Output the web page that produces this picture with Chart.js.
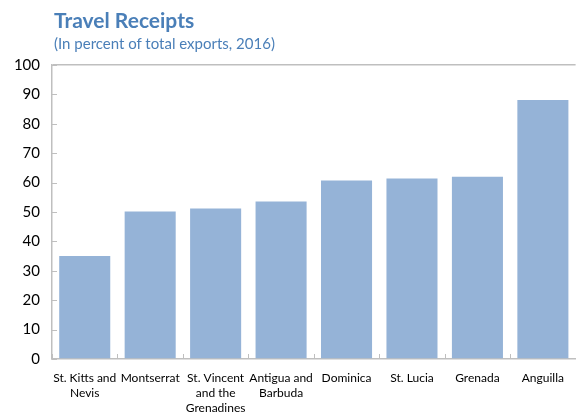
<!DOCTYPE html>
<html>
<head>
<meta charset="utf-8">
<script src="https://cdn.jsdelivr.net/npm/chart.js@4"></script>
<style>
  body { margin: 0; background: #fff; }
  #wrap { position: relative; width: 576px; height: 413px; }
  #title { position: absolute; left: 54px; top: 7px; font: bold 21px Lato, "Open Sans", sans-serif; color: #4a7fb8; }
  #sub { position: absolute; left: 54px; top: 34px; font: 15px Lato, "Open Sans", sans-serif; color: #4a7fb8; }
  canvas { position: absolute; left: 0; top: 0; }
</style>
</head>
<body>
<div id="wrap">
  <canvas id="myBar" width="576" height="413"></canvas>
  <div id="title">Travel Receipts</div>
  <div id="sub">(In percent of total exports, 2016)</div>
</div>
<script>
var barPosition = document.getElementById('myBar').getContext('2d');

var countries = [
    ["St. Kitts and", "Nevis"],
    "Montserrat",
    ["St. Vincent", "and the", "Grenadines"],
    ["Antigua and", "Barbuda"],
    "Dominica",
    "St. Lucia",
    "Grenada",
    "Anguilla"
];
var receipts = [35, 50.2, 51.2, 53.6, 60.7, 61.4, 62, 88.1];
var yTicks = [0, 10, 20, 30, 40, 50, 60, 70, 80, 90, 100];

var axisColor = "#bfbfbf";

// little inward tick marks, like the original
var innerTicks = {
    id: 'innerTicks',
    afterDraw: (chart) => {
        var ctx = chart.ctx;
        var x = chart.scales.x;
        var y = chart.scales.y;
        ctx.save();
        ctx.strokeStyle = axisColor;
        ctx.lineWidth = 1;
        ctx.beginPath();
        yTicks.forEach((v) => {
            var py = Math.round(y.getPixelForValue(v)) + 0.5;
            ctx.moveTo(chart.chartArea.left, py);
            ctx.lineTo(chart.chartArea.left + 5, py);
        });
        for (var i = 0; i <= countries.length; i++) {
            var px = Math.round(x.getPixelForValue(i - 0.5)) + 0.5;
            ctx.moveTo(px, chart.chartArea.bottom);
            ctx.lineTo(px, chart.chartArea.bottom - 5);
        }
        ctx.stroke();
        ctx.restore();
    }
};

new Chart(barPosition, {
    type: 'bar',
    data: {
        labels: countries,
        datasets: [{
            label: "Travel receipts",
            backgroundColor: "#95b3d7",
            data: receipts,
            barPercentage: 0.78,
            categoryPercentage: 1
        }]
    },
    plugins: [innerTicks],
    options: {
        responsive: false,
        animation: false,
        layout: { padding: { top: 65, right: 0, left: 0, bottom: 0 } },
        plugins: {
            legend: { display: false },
            tooltip: { enabled: false }
        },
        scales: {
            x: {
                afterFit: (scale) => { scale.height = 54; },
                grid: { display: false, drawTicks: false },
                border: { display: true, color: axisColor, width: 1.5 },
                ticks: {
                    autoSkip: false,
                    maxRotation: 0,
                    padding: 12,
                    color: "#000",
                    font: { family: "Lato", size: 12, lineHeight: 1.25 }
                }
            },
            y: {
                min: 0,
                max: 100,
                afterFit: (scale) => { scale.width = 52; },
                grid: {
                    drawTicks: false,
                    color: (c) => c.tick.value === 100 ? axisColor : 'transparent',
                    lineWidth: 1.5
                },
                border: { display: true, color: axisColor, width: 1.5 },
                ticks: {
                    stepSize: 10,
                    padding: 12,
                    color: "#000",
                    font: { family: "Lato", size: 15 }
                }
            }
        }
    }
});
</script>
</body>
</html>
